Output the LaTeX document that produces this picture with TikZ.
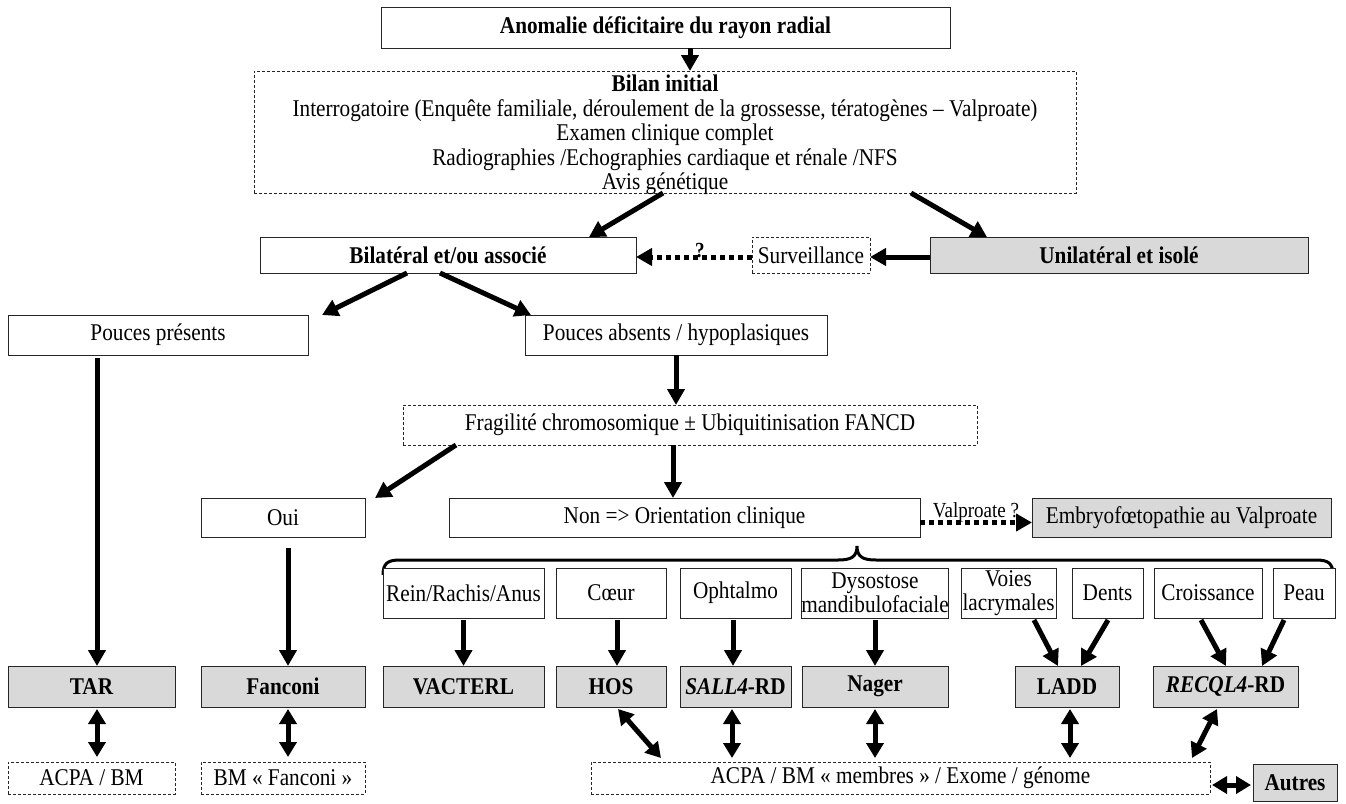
\documentclass[tikz,border=0pt]{standalone}
\usepackage{fontspec}
\setmainfont{Liberation Serif}[FakeStretch=0.885]
\usetikzlibrary{arrows.meta,calc}
\definecolor{boxgray}{RGB}{217,217,217}
\begin{document}
\begin{tikzpicture}[x=1pt,y=-1pt,
  base/.style={inner sep=0pt, outer sep=0pt, align=center, font=\fontsize{24}{24.5}\selectfont, line width=0.9pt, draw=black!85},
  solidbox/.style={base, fill=white},
  dashbox/.style={base, dash pattern=on 3pt off 2pt, line width=0.8pt},
  graybox/.style={base, fill=boxgray},
  plaintext/.style={inner sep=0pt, outer sep=0pt, align=center, font=\fontsize{24}{24.5}\selectfont},
  arr/.style={line width=5pt, -{Triangle[length=16pt,width=17pt]}},
  darr/.style={line width=5pt, {Triangle[length=15pt,width=17pt]}-{Triangle[length=15pt,width=17pt]}},
  dotarr/.style={line width=5pt, dash pattern=on 5pt off 4pt, -{Triangle[length=16pt,width=17pt]}},
  lbl/.style={inner sep=0pt, font=\fontsize{21.5}{23}\selectfont}
]
\path[use as bounding box] (0,0) rectangle (1346,803);

% top
\node[solidbox, minimum width=569pt, minimum height=41pt] (anom) at (665.5,27.5) {\bfseries Anomalie déficitaire du rayon radial};
\node[dashbox, minimum width=822pt, minimum height=122pt] (bilan) at (665,132) {};
\node[plaintext] (bilantxt) at (665,135) {\textbf{Bilan initial}\\Interrogatoire (Enquête familiale, déroulement de la grossesse, tératogènes – Valproate)\\Examen clinique complet\\Radiographies /Echographies cardiaque et rénale /NFS\\Avis génétique};

\node[solidbox, minimum width=376pt, minimum height=36pt] (bilat) at (448,255) {\bfseries Bilatéral et/ou associé};
\node[dashbox, minimum width=118pt, minimum height=36pt] (surv) at (811,255) {Surveillance};
\node[graybox, minimum width=378pt, minimum height=36pt] (unil) at (1119,255) {\bfseries Unilatéral et isolé};

\node[solidbox, minimum width=300pt, minimum height=40pt] (pp) at (158,335) {Pouces présents};
\node[solidbox, minimum width=302pt, minimum height=40pt] (pa) at (676,335) {Pouces absents / hypoplasiques};

\node[dashbox, minimum width=574pt, minimum height=40pt] (frag) at (690,425) {Fragilité chromosomique ± Ubiquitinisation FANCD};

\node[solidbox, minimum width=164pt, minimum height=39pt] (oui) at (283,517.5) {Oui};
\node[solidbox, minimum width=471pt, minimum height=39pt] (non) at (684.5,517.5) {Non => Orientation clinique};
\node[graybox, minimum width=299pt, minimum height=39pt] (emb) at (1181.5,517.5) {Embryofœtopathie au Valproate};

% brace
\coordinate (bracetip) at (857,546);
\draw[line width=3pt] (383,575) .. controls (383,563) and (388,560) .. (400,560) -- (838,560) .. controls (851,560) and (857,557) .. (bracetip) .. controls (857,557) and (863,560) .. (876,560) -- (1316,560) .. controls (1328,560) and (1333,563) .. (1333,575);

% small boxes
\node[solidbox, minimum width=161pt, minimum height=50pt] (rein) at (463.5,593) {Rein/Rachis/Anus};
\node[solidbox, minimum width=110pt, minimum height=50pt] (coeur) at (611,593) {Cœur};
\node[solidbox, minimum width=111pt, minimum height=50pt] (oph) at (735.5,593) {Ophtalmo};
\node[solidbox, minimum width=146pt, minimum height=50pt] (dyso) at (875,593) {Dysostose\\mandibulofaciale};
\node[solidbox, minimum width=95pt, minimum height=50pt] (voies) at (1008.5,593) {Voies\\lacrymales};
\node[solidbox, minimum width=71pt, minimum height=50pt] (dents) at (1107.5,593) {Dents};
\node[solidbox, minimum width=108pt, minimum height=50pt] (crois) at (1208,593) {Croissance};
\node[solidbox, minimum width=62pt, minimum height=50pt] (peau) at (1304,593) {Peau};

% gray row
\node[graybox, minimum width=167pt, minimum height=41pt] (tar) at (91.5,686.5) {\bfseries TAR};
\node[graybox, minimum width=164pt, minimum height=41pt] (fanc) at (283,686.5) {\bfseries Fanconi};
\node[graybox, minimum width=161pt, minimum height=41pt] (vact) at (463.5,686.5) {\bfseries VACTERL};
\node[graybox, minimum width=110pt, minimum height=41pt] (hos) at (611,686.5) {\bfseries HOS};
\node[graybox, minimum width=111pt, minimum height=41pt] (sall) at (735.5,686.5) {\bfseries\itshape SALL4\upshape-RD};
\node[graybox, minimum width=146pt, minimum height=41pt] (nager) at (875,686.5) {\bfseries Nager};
\node[graybox, minimum width=104pt, minimum height=41pt] (ladd) at (1067,686.5) {\bfseries LADD};
\node[graybox, minimum width=145pt, minimum height=41pt] (recq) at (1225.5,686.5) {\bfseries\itshape RECQL4\upshape-RD};

% bottom row
\node[dashbox, minimum width=167pt, minimum height=32pt] (acpa1) at (91.5,778) {ACPA / BM};
\node[dashbox, minimum width=164pt, minimum height=32pt] (bmf) at (283,778) {BM « Fanconi »};
\node[dashbox, minimum width=619pt, minimum height=32pt] (acpa2) at (900.5,778) {ACPA / BM « membres » / Exome / génome};
\node[graybox, minimum width=84pt, minimum height=37pt] (autres) at (1295,782.5) {\bfseries Autres};

% arrows
\draw[arr] ([xshift=24.5pt]anom.south) -- ([xshift=25pt]bilan.north);
\draw[arr] ([xshift=-2pt]bilan.south) -- ([xshift=141pt]bilat.north);
\draw[arr] ([xshift=246pt]bilan.south) -- ([xshift=-132pt]unil.north);
\draw[arr] ([yshift=-2pt]unil.west) -- ([yshift=-2pt]surv.east);
\draw[dotarr] ([yshift=-2pt]surv.west) -- node[lbl, pos=0.45, above=-3pt, font=\fontsize{21.5}{23}\selectfont\bfseries] (q) {?} ([yshift=-2pt]bilat.east);
\draw[arr] ([xshift=-41pt]bilat.south) -- ([xshift=14pt]pp.north east);
\draw[arr] ([xshift=-8pt]bilat.south) -- ([xshift=6pt]pa.north west);
\draw[arr] (pa.south) -- ([xshift=-14pt]frag.north);
\draw[arr] ([xshift=53pt]frag.south west) -- ([xshift=10pt]oui.north east);
\draw[arr] ([xshift=-17pt]frag.south) -- ([xshift=-11.5pt]non.north);
\draw[dotarr] ([yshift=-5pt]non.east) -- node[lbl, above=-2pt] (valp) {Valproate ?} ([yshift=-5pt]emb.west);
\draw[arr] ([xshift=-61pt,yshift=-3pt]pp.south) -- ([xshift=5.5pt]tar.north);
\draw[arr] ([xshift=5pt,yshift=-11pt]oui.south) -- ([xshift=5pt]fanc.north);
\draw[arr] ([yshift=-2pt]rein.south) -- (vact.north);
\draw[arr] ([xshift=6pt,yshift=-2pt]coeur.south) -- ([xshift=6pt]hos.north);
\draw[arr] ([xshift=-2.5pt,yshift=-2pt]oph.south) -- ([xshift=-2.5pt]sall.north);
\draw[arr] ([yshift=-2pt]dyso.south) -- (nager.north);
\draw[arr] ([xshift=25.5pt,yshift=-2pt]voies.south) -- ([xshift=-9pt]ladd.north);
\draw[arr] ([xshift=0.5pt,yshift=-2pt]dents.south) -- ([xshift=14pt]ladd.north);
\draw[arr] ([xshift=-7pt,yshift=-2pt]crois.south) -- ([xshift=0.5pt]recq.north);
\draw[arr] ([xshift=-20pt,yshift=-2pt]peau.south) -- ([xshift=36.5pt]recq.north);
% double arrows
\draw[darr] ([xshift=5.5pt,yshift=-2pt]tar.south) -- ([xshift=5.5pt,yshift=5pt]acpa1.north);
\draw[darr] ([xshift=5pt,yshift=-2pt]fanc.south) -- ([xshift=5pt,yshift=5pt]bmf.north);
\draw[darr] ([xshift=7pt,yshift=-2pt]hos.south) -- ([xshift=70pt,yshift=4pt]acpa2.north west);
\draw[darr] ([xshift=-3.5pt,yshift=-2pt]sall.south) -- ([xshift=-168.5pt,yshift=4pt]acpa2.north);
\draw[darr] ([yshift=-2pt]nager.south) -- ([xshift=-25.5pt,yshift=4pt]acpa2.north);
\draw[darr] ([xshift=3pt,yshift=-2pt]ladd.south) -- ([xshift=169.5pt,yshift=4pt]acpa2.north);
\draw[darr] ([xshift=-8.5pt,yshift=-2pt]recq.south) -- ([xshift=-18pt,yshift=4pt]acpa2.north east);
\draw[darr] ([xshift=2pt,yshift=-7pt]acpa2.east) -- ([xshift=-2pt,yshift=-2.5pt]autres.west);
\end{tikzpicture}
\end{document}
